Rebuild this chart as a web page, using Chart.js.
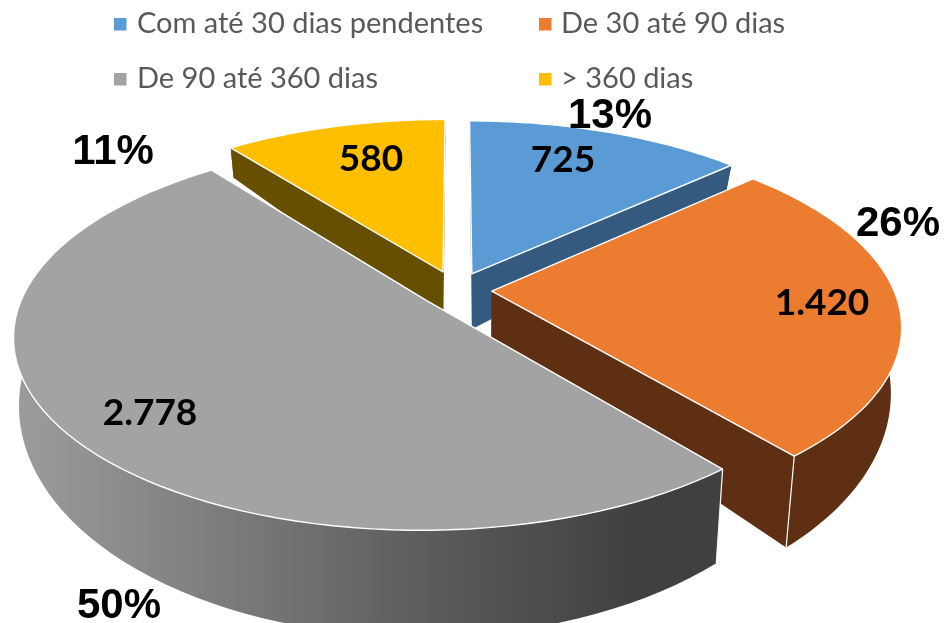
<!DOCTYPE html>
<html><head><meta charset="utf-8">
<script src="https://cdn.jsdelivr.net/npm/chart.js@4"></script>
<style>html,body{margin:0;padding:0;background:#fff}canvas{display:block}</style>
</head><body><canvas id="c" width="946" height="623"></canvas>
<script>
const categories=["Com até 30 dias pendentes","De 30 até 90 dias","De 90 até 360 dias","> 360 dias"];
const values=[725,1420,2778,580];
const valueLabels=["725","1.420","2.778","580"];
const percentLabels=["13%","26%","50%","11%"];
const topColors=["#5b9bd5","#ec7c30","#a3a3a3","#fdbf00"];
const wallColors=["#345a80","#5e2f12","#4a4a4a","#665000"];
const offsets=[28.5,26,27.5,31];
const valuePos=[[563,160],[822,303],[150,413],[371,159]];
const percentPos=[[610,116],[898,224],[119,606],[113,152]];
const legendPos=[[114,137,33],[539,561,33],[114,137,88],[539,561,88]];
const drawOrder=[0,3,1,2];
const P={cx:456.5,cy:290,A:402,B:185,k:.175,depth:59,slope:.2,vx:470,sLeft:.012,sRight:.025};
function project(u,v){const w=1-P.k*v;return [P.cx+P.A*u/w,P.cy+P.B*v/w];}
function toBase(p){const d=p[0]-P.vx;return [p[0]-d*(d<0?P.sLeft:P.sRight),p[1]+P.depth+P.slope*(p[1]-293)];}
function poly(ctx,pts){ctx.beginPath();pts.forEach((p,i)=>i?ctx.lineTo(p[0],p[1]):ctx.moveTo(p[0],p[1]));ctx.closePath();}
const pie3d={id:'pie3d',
 beforeDatasetDraw(chart){
  const ctx=chart.ctx,arcs=chart.getDatasetMeta(0).data;
  drawOrder.forEach(i=>{
   const a=arcs[i],e=a.options.offset/a.outerRadius,mid=(a.startAngle+a.endAngle)/2;
   const ox=Math.cos(mid)*e,oy=Math.sin(mid)*e;
   const pts=[],n=80;
   for(let s=0;s<=n;s++){const t=a.startAngle+(a.endAngle-a.startAngle)*s/n;pts.push(project(Math.cos(t)+ox,Math.sin(t)+oy));}
   const apex=project(ox,oy),base=pts.map(toBase),apexB=toBase(apex);
   let fill=wallColors[i];
   if(i===2){const g=ctx.createLinearGradient(17,0,720,0);g.addColorStop(0,'#9c9c9c');g.addColorStop(.62,'#585858');g.addColorStop(.88,'#404040');g.addColorStop(1,'#404040');fill=g;}
   ctx.fillStyle=fill;
   poly(ctx,[apex,pts[0],base[0],apexB]);ctx.fill();
   poly(ctx,[apex,pts[n],base[n],apexB]);ctx.fill();
   poly(ctx,pts.concat(base.slice().reverse()));ctx.fill();
   poly(ctx,[apex].concat(pts));ctx.fillStyle=a.options.backgroundColor;ctx.fill();
   ctx.strokeStyle='#fff';ctx.lineWidth=1.4;ctx.lineJoin='round';ctx.stroke();
   ctx.lineWidth=1.2;
   [[0,a.startAngle],[n,a.endAngle]].forEach(([s,t])=>{
    if(Math.sin(t)>0){ctx.beginPath();ctx.moveTo(pts[s][0],pts[s][1]);ctx.lineTo(base[s][0],base[s][1]);ctx.stroke();}
   });
  });
  return false;
 },
 afterDraw(chart){
  const ctx=chart.ctx;ctx.save();ctx.textBaseline='alphabetic';
  ctx.font='29px Lato';
  categories.forEach((c,i)=>{const[l,x,y]=legendPos[i];ctx.fillStyle=topColors[i];ctx.fillRect(l,y-15,12.5,12.5);ctx.fillStyle='#595959';ctx.textAlign='left';ctx.fillText(c,x,y);});
  ctx.textAlign='center';ctx.textBaseline='middle';ctx.fillStyle='#000';
  ctx.font='bold 37px Lato';
  valueLabels.forEach((t,i)=>ctx.fillText(t,valuePos[i][0],valuePos[i][1]));
  ctx.font='bold 42px "Liberation Sans"';
  percentLabels.forEach((t,i)=>ctx.fillText(t,percentPos[i][0],percentPos[i][1]));
  ctx.restore();
 }
};
new Chart(document.getElementById('c'),{type:'pie',
 data:{labels:categories,datasets:[{data:values,backgroundColor:topColors,offset:offsets,borderWidth:0}]},
 options:{responsive:false,animation:false,layout:{padding:0},plugins:{legend:{display:false},tooltip:{enabled:false}}},
 plugins:[pie3d]});
</script></body></html>
